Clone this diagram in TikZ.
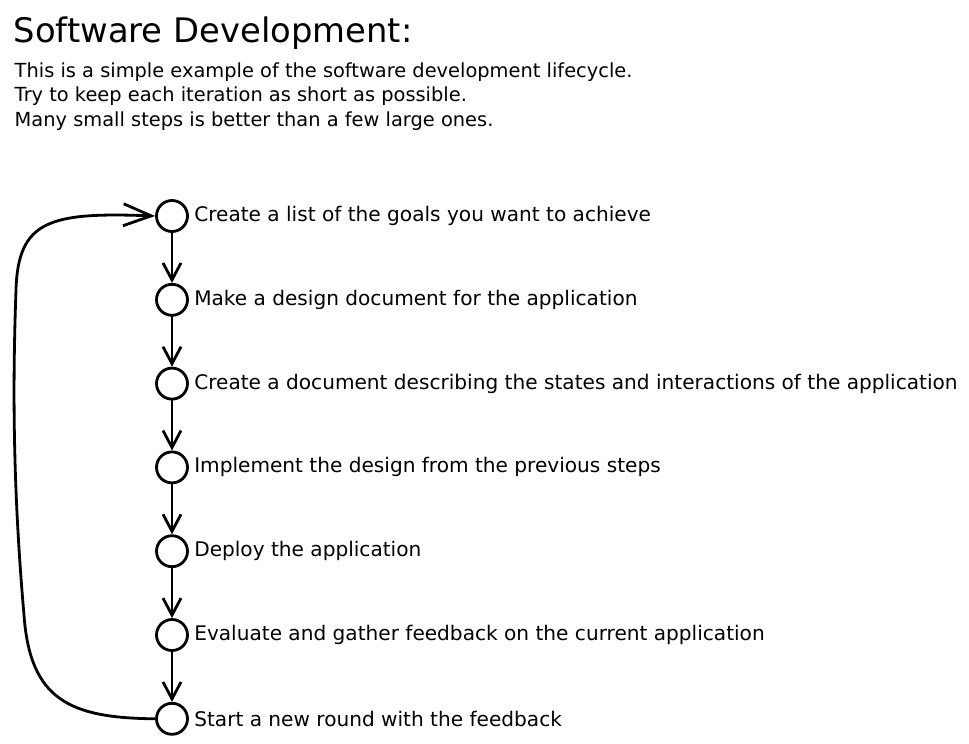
\documentclass[tikz,border=0pt]{standalone}
\usepackage{fontspec}
\setmainfont{DejaVu Sans}
\usetikzlibrary{positioning,arrows.meta}

\begin{document}
\begin{tikzpicture}[
      x=1pt, y=-1pt,
      stepnode/.style={circle, draw=black, line width=2.8pt,
        minimum size=31pt, inner sep=0pt},
      steptext/.style={font=\fontsize{20.1}{24}\selectfont, inner sep=2pt},
      introtext/.style={anchor=base west, font=\fontsize{19.4}{24}\selectfont},
      line width=2.8pt, line cap=round, line join=round,
      >={Straight Barb[length=17pt,width=18pt,line width=2.8pt]},
      bigtip/.style={-{Straight Barb[length=28pt,width=22pt,line width=2.8pt]}},
      node distance=50pt
      ]
      \useasboundingbox (0,0) rectangle (969,744);

      % heading
      \node[anchor=base west, font=\fontsize{33.8}{40}\selectfont] (title) at (9,42) {Software Development:};
      \node[introtext] (intro1) at (10,77)
        {This is a simple example of the software development lifecycle.};
      \node[introtext] (intro2) at (10,101)
        {Try to keep each iteration as short as possible.};
      \node[introtext] (intro3) at (10,126)
        {Many small steps is better than a few large ones.};

      % the steps
      \node[stepnode] (c1) at (172,216) {};
      \node[stepnode, below=of c1] (c2) {};
      \node[stepnode, below=of c2] (c3) {};
      \node[stepnode, below=of c3] (c4) {};
      \node[stepnode, below=of c4] (c5) {};
      \node[stepnode, below=of c5] (c6) {};
      \node[stepnode, below=of c6] (c7) {};

      \node[steptext, right=2pt of c1] (l1) {Create a list of the goals you want to achieve};
      \node[steptext, right=2pt of c2] (l2) {Make a design document for the application};
      \node[steptext, right=2pt of c3] (l3) {Create a document describing the states and interactions of the application};
      \node[steptext, right=2pt of c4] (l4) {Implement the design from the previous steps};
      \node[steptext, right=2pt of c5] (l5) {Deploy the application};
      \node[steptext, right=2pt of c6] (l6) {Evaluate and gather feedback on the current application};
      \node[steptext, right=2pt of c7] (l7) {Start a new round with the feedback};

      \coordinate (low) at (24,615);
      \coordinate (high) at (16,290);

  % Connect the nodes
 \draw[->] (c1) -- (c2);
 \draw[->] (c2) -- (c3);
 \draw[->] (c3) -- (c4);
 \draw[->] (c4) -- (c5);
 \draw[->] (c5) -- (c6);
 \draw[->] (c6) -- (c7);
 \draw[bigtip] (c7.west) .. controls (70,718) and (30,700) .. (low)
   .. controls (14,500) and (12,400) .. (high)
   .. controls (18,220) and (50,212) .. (c1.west);

\end{tikzpicture}
\end{document}
